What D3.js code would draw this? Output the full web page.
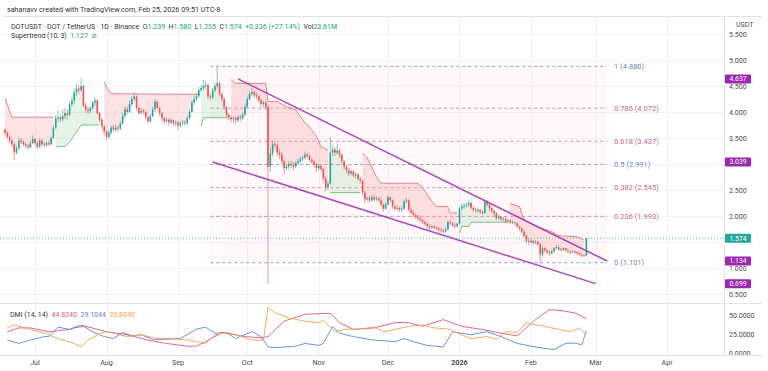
<!DOCTYPE html>
<html>
<head>
<meta charset="utf-8">
<script src="https://cdn.jsdelivr.net/npm/d3@7/dist/d3.min.js"></script>
<style>
  body { margin: 0; background: #fff; }
  svg { display: block; font-family: Roboto, "Noto Sans", sans-serif; }
</style>
</head>
<body>
<svg id="chart" width="768" height="371"></svg>
<script>
// daily candles, one row per day: [close, high, low]; open = previous close
var firstOpen = 3.66;
var jun = [[3.60,3.70,3.55],[3.52,3.63,3.48],[3.45,3.56,3.40],[3.38,3.48,3.33],[3.22,3.40,3.08],[3.30,3.35,3.18],[3.45,3.50,3.28],
  [3.42,3.50,3.38],[3.38,3.46,3.34],[3.35,3.42,3.30],[3.32,3.38,3.28],[3.40,3.45,3.30],[3.48,3.55,3.38]];
var jul = [[3.40,3.50,3.36],[3.33,3.44,3.28],[3.45,3.50,3.30],[3.38,3.48,3.34],[3.36,3.42,3.32],[3.40,3.44,3.34],[3.38,3.45,3.34],
  [3.50,3.55,3.36],[3.70,3.75,3.48],[3.88,3.95,3.66],[3.90,4.02,3.80],[3.86,3.96,3.80],[3.92,4.05,3.82],[3.98,4.08,3.86],
  [3.95,4.05,3.85],[4.15,4.20,3.92],[4.22,4.30,4.10],[4.38,4.45,4.15],[4.45,4.55,4.32],[4.42,4.52,4.35],[4.50,4.65,4.38],
  [4.12,4.52,4.08],[4.05,4.18,3.98],[4.02,4.10,3.95],[4.08,4.12,3.98],[4.18,4.22,4.05],[4.22,4.28,4.12],[3.98,4.25,3.95],
  [3.85,4.00,3.80],[3.72,3.88,3.66],[3.62,3.75,3.55]];
var aug = [[3.52,3.65,3.46],[3.60,3.65,3.48],[3.70,3.74,3.56],[3.66,3.75,3.62],[3.70,3.76,3.62],[3.68,3.74,3.62],[3.78,3.82,3.65],
  [3.92,3.98,3.75],[4.05,4.12,3.88],[4.00,4.10,3.95],[4.15,4.22,3.98],[4.25,4.30,4.10],[4.30,4.38,4.20],[4.08,4.32,4.02],
  [3.98,4.10,3.94],[4.02,4.08,3.95],[4.00,4.06,3.95],[3.90,4.02,3.85],[3.82,3.92,3.78],[3.92,3.96,3.80],[4.05,4.10,3.90],
  [4.20,4.25,4.00],[4.08,4.22,4.02],[3.98,4.10,3.92],[3.88,4.00,3.82],[3.82,3.90,3.76],[3.85,3.90,3.78],[3.80,3.88,3.74],
  [3.84,3.88,3.76],[3.78,3.86,3.72],[3.80,3.84,3.72]];
var sep = [[3.74,3.82,3.65],[3.78,3.82,3.70],[3.80,3.85,3.74],[3.78,3.84,3.74],[3.88,3.92,3.76],[4.00,4.05,3.86],[4.18,4.22,3.98],
  [4.25,4.30,4.12],[4.30,4.36,4.20],[4.42,4.48,4.28],[4.46,4.52,4.38],[4.50,4.62,4.42],[4.52,4.60,4.45],[4.30,4.55,4.25],
  [4.28,4.35,4.22],[4.42,4.46,4.25],[4.50,4.56,4.38],[4.55,4.88,4.45],[4.35,4.58,4.30],[4.25,4.38,4.20],[4.10,4.28,4.05],
  [3.95,4.12,3.90],[3.90,3.98,3.84],[3.86,3.94,3.80],[3.88,3.92,3.80],[3.84,3.92,3.78],[3.90,3.94,3.80],[3.88,3.94,3.82],
  [3.95,3.98,3.84],[4.10,4.15,3.92]];
var oct = [[4.25,4.30,4.08],[4.35,4.40,4.22],[4.38,4.46,4.30],[4.32,4.42,4.28],[4.30,4.38,4.24],[4.22,4.34,4.18],[4.15,4.26,4.10],
  [4.18,4.22,4.08],[4.10,4.22,4.05],[2.95,4.14,0.699],[3.20,3.30,2.85],[3.38,3.45,3.15],[3.36,3.45,3.28],[3.22,3.40,3.15],
  [3.18,3.28,3.10],[3.05,3.22,3.00],[2.92,3.08,2.80],[2.95,3.00,2.88],[3.00,3.05,2.90],[2.98,3.06,2.92],[2.95,3.04,2.88],
  [3.02,3.06,2.92],[3.05,3.10,2.98],[3.10,3.14,3.02],[3.12,3.16,3.06],[3.18,3.24,3.08],[3.15,3.22,3.10],[3.08,3.18,3.04],
  [3.05,3.12,3.00],[3.00,3.08,2.94],[2.92,3.02,2.86]];
var nov = [[2.96,3.00,2.88],[2.90,2.98,2.85],[2.72,2.92,2.65],[2.55,2.76,2.48],[2.62,2.68,2.50],[3.22,3.52,2.60],[3.28,3.36,3.15],
  [3.22,3.32,3.15],[3.26,3.40,3.18],[3.18,3.30,3.12],[3.05,3.20,3.00],[2.95,3.08,2.90],[2.88,2.98,2.82],[2.82,2.92,2.76],
  [2.86,2.90,2.78],[2.78,2.88,2.74],[2.80,2.85,2.72],[2.72,2.82,2.68],[2.68,2.76,2.62],[2.45,2.70,2.40],[2.32,2.48,2.25],
  [2.34,2.38,2.28],[2.30,2.38,2.26],[2.36,2.40,2.28],[2.32,2.40,2.28],[2.34,2.38,2.28],[2.30,2.36,2.26],[2.22,2.32,2.18],
  [2.14,2.24,2.08],[2.22,2.26,2.12]];
var dec = [[2.36,2.40,2.20],[2.30,2.38,2.26],[2.18,2.32,2.14],[2.14,2.22,2.10],[2.15,2.20,2.10],[2.12,2.18,2.08],[2.14,2.18,2.08],
  [2.28,2.32,2.12],[2.30,2.35,2.24],[2.12,2.32,2.08],[2.06,2.16,2.02],[2.02,2.10,1.98],[1.98,2.05,1.94],[1.95,2.02,1.90],
  [1.92,1.98,1.88],[1.88,1.95,1.84],[1.85,1.92,1.80],[1.80,1.88,1.76],[1.78,1.84,1.74],[1.80,1.84,1.75],[1.77,1.82,1.74],
  [1.76,1.80,1.72],[1.73,1.79,1.70],[1.72,1.76,1.68],[1.70,1.75,1.66],[1.74,1.78,1.68],[1.88,1.92,1.72],[1.86,1.92,1.82],
  [1.82,1.88,1.78],[1.80,1.86,1.76],[1.85,1.88,1.78]];
var jan = [[2.15,2.18,1.84],[2.18,2.24,2.10],[2.20,2.25,2.14],[2.22,2.26,2.16],[2.25,2.30,2.18],[2.16,2.27,2.12],[2.12,2.18,2.08],
  [2.10,2.15,2.06],[2.12,2.16,2.06],[2.08,2.14,2.04],[2.06,2.12,2.02],[2.27,2.31,2.04],[2.22,2.30,2.18],[2.15,2.25,2.10],
  [2.10,2.18,2.05],[2.05,2.12,2.00],[1.96,2.08,1.92],[1.98,2.02,1.92],[1.94,2.00,1.90],[1.95,1.99,1.90],[1.90,1.98,1.86],
  [1.92,1.96,1.86],[1.87,1.94,1.84],[1.88,1.92,1.84],[1.86,1.90,1.82],[1.80,1.88,1.76],[1.76,1.82,1.72],[1.70,1.78,1.66],
  [1.62,1.72,1.58],[1.52,1.64,1.48],[1.50,1.56,1.45]];
var feb = [[1.52,1.56,1.46],[1.48,1.54,1.44],[1.50,1.54,1.45],[1.46,1.52,1.42],[1.26,1.48,1.101],[1.38,1.42,1.22],[1.34,1.40,1.30],
  [1.30,1.36,1.26],[1.28,1.34,1.24],[1.32,1.35,1.26],[1.38,1.40,1.30],[1.40,1.44,1.35],[1.36,1.42,1.33],[1.35,1.39,1.32],
  [1.38,1.40,1.32],[1.34,1.39,1.31],[1.32,1.36,1.29],[1.30,1.34,1.27],[1.32,1.34,1.28],[1.30,1.34,1.27],[1.28,1.32,1.25],
  [1.26,1.30,1.23],[1.24,1.28,1.21],[1.239,1.27,1.22],[1.574,1.580,1.235]];
var monthStarts = ["2025-06-18","2025-07-01","2025-08-01","2025-09-01","2025-10-01","2025-11-01","2025-12-01","2026-01-01","2026-02-01"];
var monthRows = [jun, jul, aug, sep, oct, nov, dec, jan, feb];

// supertrend (10, 3): [date, value]
var stDown1 = [["2025-06-18",4.27],["2025-06-19",4.15],["2025-06-20",4.02],["2025-06-21",3.90],["2025-07-09",3.90]];
var stUp1 = [["2025-07-10",3.33],["2025-07-14",3.34],["2025-07-16",3.42],["2025-07-18",3.55],["2025-07-20",3.68],["2025-07-21",3.75],["2025-07-29",3.75]];
var stDown2 = [["2025-07-31",4.58],["2025-08-01",4.48],["2025-08-03",4.35],["2025-09-10",4.34]];
var stUp2 = [["2025-09-11",3.72],["2025-09-12",3.89],["2025-09-23",3.89]];
var stDown3 = [["2025-09-24",4.62],["2025-09-26",4.55],["2025-10-09",4.55],["2025-10-10",4.20],["2025-10-14",4.20],["2025-10-18",4.10],
  ["2025-10-22",4.04],["2025-10-24",3.91],["2025-10-26",3.80],["2025-10-29",3.65],["2025-10-31",3.53],["2025-11-02",3.33],["2025-11-05",3.27]];
var stUp3 = [["2025-11-06",2.45],["2025-11-19",2.45]];
var stDown4 = [["2025-11-20",3.21],["2025-11-22",3.12],["2025-11-24",2.94],["2025-11-26",2.75],["2025-11-28",2.63],["2025-12-14",2.63],
  ["2025-12-16",2.55],["2025-12-18",2.42],["2025-12-20",2.28],["2025-12-22",2.18],["2025-12-27",2.18],["2025-12-28",2.06],["2025-12-31",2.06]];
var stUp4 = [["2026-01-01",1.67],["2026-01-02",1.80],["2026-01-05",1.80],["2026-01-06",1.88],["2026-01-22",1.88]];
var stDown5 = [["2026-01-23",2.24],["2026-01-27",2.18],["2026-01-29",1.92],["2026-02-02",1.83],["2026-02-05",1.77],["2026-02-10",1.70],
  ["2026-02-13",1.62],["2026-02-21",1.60],["2026-02-24",1.54]];
var stDownSegs = [stDown1, stDown2, stDown3, stDown4, stDown5];
var stUpSegs = [stUp1, stUp2, stUp3, stUp4];

// fibonacci retracement
var fibRatios = [1, 0.786, 0.618, 0.5, 0.382, 0.236, 0];
var fibPrices = [4.880, 4.072, 3.437, 2.991, 2.545, 1.993, 1.101];
var fibStart = "2025-09-15", fibEnd = "2026-03-06";

// falling wedge lines
var wedgeUpper = [["2025-09-27",4.637],["2026-03-06",1.134]];
var wedgeLower = [["2025-09-16",3.039],["2026-03-01",0.699]];

// DMI (14, 14)
var adx = [["2025-06-19",28],["2025-06-24",33],["2025-06-29",33],["2025-07-07",28],["2025-07-16",31],["2025-07-20",36],["2025-07-22",36],
  ["2025-08-01",28],["2025-08-10",24],["2025-08-19",17],["2025-08-27",12.6],["2025-09-05",9],["2025-09-09",9],["2025-09-13",15],
  ["2025-09-20",27],["2025-09-22",26],["2025-09-30",21.6],["2025-10-07",20],["2025-10-10",21.6],["2025-10-17",42],["2025-10-26",51],
  ["2025-11-03",52],["2025-11-06",52],["2025-11-10",40],["2025-11-16",31],["2025-11-25",33],["2025-12-04",40],["2025-12-10",40],
  ["2025-12-16",35],["2025-12-25",44],["2026-01-02",35],["2026-01-11",31],["2026-01-19",26],["2026-01-26",22.5],["2026-02-03",44],
  ["2026-02-09",57],["2026-02-14",55.9],["2026-02-20",52.7],["2026-02-23",48.6],["2026-02-25",44.824]];
var plusDI = [["2025-06-19",17],["2025-06-24",12.6],["2025-06-29",17],["2025-07-05",21.6],["2025-07-07",21.6],["2025-07-11",34],
  ["2025-07-16",31],["2025-07-18",33],["2025-07-22",35],["2025-07-26",28],["2025-07-31",21.6],["2025-08-04",19],["2025-08-08",27],
  ["2025-08-12",22.5],["2025-08-16",24],["2025-08-21",18],["2025-08-27",18],["2025-09-02",19],["2025-09-09",31.5],["2025-09-13",34],
  ["2025-09-17",26],["2025-09-22",27],["2025-09-26",19],["2025-10-03",28],["2025-10-07",21.6],["2025-10-10",8],["2025-10-13",7],
  ["2025-10-22",9],["2025-10-26",12.6],["2025-11-01",10],["2025-11-03",12.6],["2025-11-07",35],["2025-11-10",26],["2025-11-16",21.6],
  ["2025-11-25",17],["2025-12-04",15],["2025-12-08",19],["2025-12-12",15],["2025-12-18",10],["2025-12-25",8],["2025-12-29",28],
  ["2026-01-02",26],["2026-01-06",24],["2026-01-13",28],["2026-01-19",21.6],["2026-01-26",12.6],["2026-02-01",9],["2026-02-07",6],
  ["2026-02-11",4.5],["2026-02-16",12.6],["2026-02-20",13],["2026-02-23",11],["2026-02-25",29.1044]];
var minusDI = [["2025-06-19",33],["2025-06-22",37],["2025-06-29",31],["2025-07-05",26],["2025-07-11",19],["2025-07-18",12.6],
  ["2025-07-21",8],["2025-07-24",17],["2025-07-31",28],["2025-08-04",26],["2025-08-10",21.6],["2025-08-16",24],["2025-08-23",19],
  ["2025-08-29",19],["2025-09-05",17],["2025-09-13",12.6],["2025-09-17",24],["2025-09-22",27],["2025-09-26",24],["2025-10-03",17],
  ["2025-10-08",17],["2025-10-10",60],["2025-10-13",53],["2025-10-19",46],["2025-10-26",42],["2025-11-01",40],["2025-11-03",43],
  ["2025-11-08",28],["2025-11-12",31],["2025-11-18",31.5],["2025-11-25",34],["2025-11-29",28],["2025-12-04",31],["2025-12-10",35],
  ["2025-12-16",37],["2025-12-21",33],["2025-12-27",31.5],["2026-01-02",24],["2026-01-06",19],["2026-01-13",21.6],["2026-01-17",18],
  ["2026-01-21",28],["2026-01-26",27],["2026-01-30",40],["2026-02-03",37],["2026-02-07",35],["2026-02-13",31],["2026-02-18",28],
  ["2026-02-22",33],["2026-02-25",23.804]];

// axis labels; 3.000 and 1.500 sit under price badges in the reference
var priceTicks = [0.5, 1, 2, 2.5, 3.5, 4, 4.5, 5, 5.5];
var gridTicks = [0.5, 1, 1.5, 2, 2.5, 3, 3.5, 4, 4.5, 5, 5.5];
var dmiTicks = [0, 25, 50];
var monthTicks = ["2025-07-01","2025-08-01","2025-09-01","2025-10-01","2025-11-01","2025-12-01","2026-01-01","2026-02-01","2026-03-01","2026-04-01"];
var monthLabels = ["Jul","Aug","Sep","Oct","Nov","Dec","2026","Feb","Mar","Apr"];
var lastClose = 1.574;

var UP = "#26a69a", DOWN = "#ef5350", PURPLE = "#9c27b0";
var parse = d3.utcParse("%Y-%m-%d");
var svg = d3.select("#chart");

var x = d3.scaleUtc().domain([parse("2025-07-01"), parse("2026-04-01")]).range([35, 667.1]);
var y = d3.scaleLinear().domain([0.5, 5]).range([294, 60]);
var yd = d3.scaleLinear().domain([0, 50]).range([353, 315]);

var candles = [];
var prev = firstOpen;
monthStarts.forEach(function(s, m) {
  var d0 = parse(s);
  monthRows[m].forEach(function(r, i) {
    candles.push({ date: d3.utcDay.offset(d0, i), o: prev, c: r[0], h: r[1], l: r[2] });
    prev = r[0];
  });
});

var defs = svg.append("defs");
defs.append("clipPath").attr("id", "mainClip").append("rect").attr("x", 0).attr("y", 16).attr("width", 724).attr("height", 287);
defs.append("clipPath").attr("id", "dmiClip").append("rect").attr("x", 0).attr("y", 304).attr("width", 724).attr("height", 51);

// grid
var grid = svg.append("g").attr("stroke", "#f1f3f6").attr("stroke-width", 1);
grid.selectAll("line.h").data(gridTicks).join("line")
  .attr("x1", 0).attr("x2", 724).attr("y1", function(d) { return Math.round(y(d)) + 0.5; }).attr("y2", function(d) { return Math.round(y(d)) + 0.5; });
grid.selectAll("line.v").data(monthTicks).join("line")
  .attr("x1", function(d) { return Math.round(x(parse(d))) + 0.5; }).attr("x2", function(d) { return Math.round(x(parse(d))) + 0.5; })
  .attr("y1", 16).attr("y2", 355);

var main = svg.append("g").attr("clip-path", "url(#mainClip)");

// fib background + levels
var fx0 = x(parse(fibStart)), fx1 = x(parse(fibEnd));
main.append("rect").attr("x", fx0).attr("width", fx1 - fx0)
  .attr("y", y(fibPrices[0])).attr("height", y(fibPrices[6]) - y(fibPrices[0]))
  .attr("fill", "#e91e63").attr("opacity", 0.03);
function fibColor(r) { return (r === 1 || r === 0.5 || r === 0) ? "#6b86b8" : "#c9668f"; }
main.selectAll("line.fib").data(fibPrices).join("line")
  .attr("x1", fx0).attr("x2", fx1)
  .attr("y1", function(d) { return y(d); }).attr("y2", function(d) { return y(d); })
  .attr("stroke", function(d, i) { return fibColor(fibRatios[i]); })
  .attr("stroke-width", 0.9).attr("stroke-dasharray", "3,3").attr("opacity", 0.85);

// supertrend fills and lines
function segFill(seg) {
  var t0 = parse(seg[0][0]), t1 = parse(seg[seg.length - 1][0]);
  var pts = seg.map(function(p) { return [x(parse(p[0])), y(p[1])]; });
  var mids = candles.filter(function(c) { return c.date >= t0 && c.date <= t1; })
    .map(function(c) { return [x(c.date), y((c.o + c.c) / 2)]; }).reverse();
  return d3.line()(pts.concat(mids)) + "Z";
}
var stLine = d3.line().x(function(p) { return x(parse(p[0])); }).y(function(p) { return y(p[1]); });
main.selectAll("path.stdf").data(stDownSegs).join("path").attr("d", segFill).attr("fill", "#f7a1a8").attr("opacity", 0.3);
main.selectAll("path.stuf").data(stUpSegs).join("path").attr("d", segFill).attr("fill", "#9ad3a4").attr("opacity", 0.25);
main.selectAll("path.stdl").data(stDownSegs).join("path").attr("d", stLine).attr("fill", "none").attr("stroke", "#e06a6a").attr("stroke-width", 0.8);
main.selectAll("path.stul").data(stUpSegs).join("path").attr("d", stLine).attr("fill", "none").attr("stroke", "#5fae6a").attr("stroke-width", 0.8);

// candles
var bw = 1.6;
var cg = main.append("g");
cg.selectAll("line.wick").data(candles).join("line")
  .attr("x1", function(d) { return x(d.date); }).attr("x2", function(d) { return x(d.date); })
  .attr("y1", function(d) { return y(Math.max(d.h, d.o, d.c)); }).attr("y2", function(d) { return y(Math.min(d.l, d.o, d.c)); })
  .attr("stroke", function(d) { return d.c >= d.o ? UP : DOWN; }).attr("stroke-width", 0.6);
cg.selectAll("rect.body").data(candles).join("rect")
  .attr("x", function(d) { return x(d.date) - bw / 2; }).attr("width", bw)
  .attr("y", function(d) { return y(Math.max(d.o, d.c)); })
  .attr("height", function(d) { return Math.max(0.8, Math.abs(y(d.o) - y(d.c))); })
  .attr("fill", function(d) { return d.c >= d.o ? UP : DOWN; });

// wedge lines
var wl = d3.line().x(function(p) { return x(parse(p[0])); }).y(function(p) { return y(p[1]); });
main.selectAll("path.wedge").data([wedgeUpper, wedgeLower]).join("path")
  .attr("d", wl).attr("fill", "none").attr("stroke", PURPLE).attr("stroke-width", 1.5).attr("opacity", 0.85);

// last price line
main.append("line").attr("x1", 0).attr("x2", 724).attr("y1", y(lastClose)).attr("y2", y(lastClose))
  .attr("stroke", UP).attr("stroke-width", 0.8).attr("stroke-dasharray", "1,2");

// fib labels
svg.selectAll("text.fib").data(fibPrices).join("text")
  .attr("x", fx1 + 7).attr("y", function(d) { return y(d) + 2.6; })
  .attr("font-size", 7.5).attr("fill", function(d, i) { return fibColor(fibRatios[i]); })
  .text(function(d, i) { return fibRatios[i] + " (" + d.toFixed(3) + ")"; });

// DMI pane
var dmi = svg.append("g").attr("clip-path", "url(#dmiClip)");
var dl = d3.line().x(function(p) { return x(parse(p[0])); }).y(function(p) { return yd(p[1]); });
[[adx, "#e0538a"], [plusDI, "#5b86d6"], [minusDI, "#f2a14c"]].forEach(function(s) {
  dmi.append("path").attr("d", dl(s[0])).attr("fill", "none").attr("stroke", s[1]).attr("stroke-width", 0.9);
});

// frame
var frame = svg.append("g").attr("stroke", "#e0e3eb").attr("stroke-width", 1).attr("fill", "none");
frame.append("line").attr("x1", 4).attr("x2", 762).attr("y1", 16.5).attr("y2", 16.5);
frame.append("line").attr("x1", 0).attr("x2", 762).attr("y1", 303.5).attr("y2", 303.5);
frame.append("line").attr("x1", 724.5).attr("x2", 724.5).attr("y1", 16).attr("y2", 371);

// price axis
var ax = svg.append("g").attr("font-size", 7).attr("fill", "#4a4a4a");
ax.selectAll("text.p").data(priceTicks).join("text")
  .attr("x", 729).attr("y", function(d) { return y(d) + 3; }).text(function(d) { return d.toFixed(3); });
ax.selectAll("text.d").data(dmiTicks).join("text")
  .attr("x", 729).attr("y", function(d) { return yd(d) + 2.5; }).text(function(d) { return d.toFixed(4); });
svg.append("rect").attr("x", 725).attr("y", 17).attr("width", 36).attr("height", 14.5).attr("fill", "#fff");
svg.append("text").attr("x", 736).attr("y", 27).attr("font-size", 7).attr("fill", "#4a4a4a").text("USDT");

// badges
var badges = [[4.637, PURPLE], [3.039, PURPLE], [lastClose, UP], [1.134, PURPLE], [0.699, PURPLE]];
var bg = svg.selectAll("g.badge").data(badges).join("g");
bg.append("rect").attr("x", 725).attr("width", 26).attr("height", 9).attr("rx", 1)
  .attr("y", function(d) { return y(d[0]) - 4.5; }).attr("fill", function(d) { return d[1]; });
bg.append("text").attr("x", 738).attr("text-anchor", "middle").attr("font-size", 6.8).attr("fill", "#fff")
  .attr("y", function(d) { return y(d[0]) + 2.4; }).text(function(d) { return d[0].toFixed(3); });

// time axis
svg.append("rect").attr("x", 0).attr("y", 355).attr("width", 768).attr("height", 16).attr("fill", "#fff");
svg.append("line").attr("x1", 0).attr("x2", 762).attr("y1", 355.5).attr("y2", 355.5).attr("stroke", "#e0e3eb");
svg.selectAll("text.m").data(monthTicks).join("text")
  .attr("x", function(d) { return x(parse(d)); }).attr("y", 365).attr("text-anchor", "middle")
  .attr("font-size", 7.2).attr("fill", "#4a4a4a")
  .attr("font-weight", function(d, i) { return monthLabels[i] === "2026" ? "bold" : null; })
  .text(function(d, i) { return monthLabels[i]; });

// header texts
svg.append("text").attr("x", 7).attr("y", 12).attr("font-size", 7.2).attr("fill", "#333")
  .text("sahanavv created with TradingView.com, Feb 25, 2026 09:51 UTC-8");
var G = "#22a08a";
var h2 = svg.append("text").attr("x", 11).attr("y", 28.5).attr("font-size", 7).attr("fill", "#333").attr("style", "white-space:pre");
[["DOTUSDT · DOT / TetherUS · 1D · Binance  O", null], ["1.239", G], ["  H", null], ["1.580", G], ["  L", null], ["1.235", G],
 ["  C", null], ["1.574", G], ["  +0.336 (+27.14%)", G], ["  Vol", null], ["23.61M", G]].forEach(function(p) {
  h2.append("tspan").attr("fill", p[1]).text(p[0]);
});
var h3 = svg.append("text").attr("x", 11).attr("y", 37.5).attr("font-size", 7).attr("fill", "#333").attr("style", "white-space:pre");
h3.append("tspan").text("Supertrend (10, 3)  ");
h3.append("tspan").attr("fill", "#43a047").text("1.127");
h3.append("tspan").attr("fill", "#777").text("  ⊘");

var h4 = svg.append("text").attr("x", 10).attr("y", 316.5).attr("font-size", 7).attr("fill", "#333").attr("style", "white-space:pre");
h4.append("tspan").text("DMI (14, 14)  ");
h4.append("tspan").attr("fill", "#e0538a").text("44.8240");
h4.append("tspan").attr("fill", "#5b86d6").text("  29.1044");
h4.append("tspan").attr("fill", "#f2a14c").text("  23.8040");
</script>
</body>
</html>
